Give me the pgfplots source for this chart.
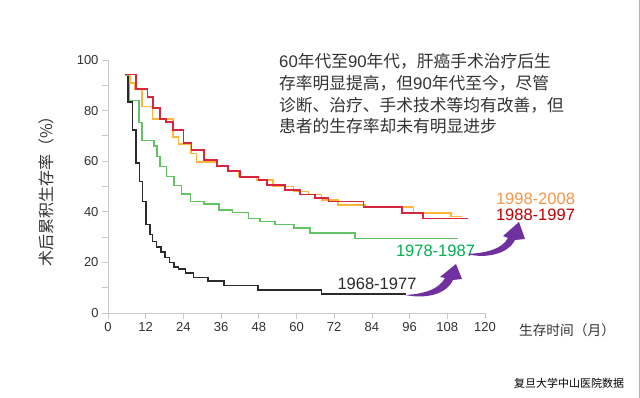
\documentclass[border=0pt]{standalone}
\usepackage{pgfplots}
\pgfplotsset{compat=1.18}
\usepackage{fontspec}
\setmainfont{Liberation Sans}
\newfontfamily\cjk{Noto Sans CJK SC}
\definecolor{axisgray}{HTML}{C8C8C8}
\definecolor{ticktext}{HTML}{333333}
\definecolor{cblack}{HTML}{2B2B2B}
\definecolor{cgreen}{HTML}{62C462}
\definecolor{cred}{HTML}{D7263D}
\definecolor{corange}{HTML}{FDB53A}
\definecolor{lgreen}{HTML}{00B050}
\definecolor{lred}{HTML}{C00000}
\definecolor{lorange}{HTML}{F79646}
\definecolor{purp}{HTML}{7030A0}
\definecolor{txt}{HTML}{333333}
\begin{document}
\begin{tikzpicture}
\path[use as bounding box, fill=white] (0,0) rectangle (640bp,398bp);
\begin{axis}[
  at={(108bp,85bp)}, anchor=south west, scale only axis,
  width=377bp, height=253bp,
  xmin=0, xmax=120, ymin=0, ymax=100,
  axis lines=left,
  axis line style={-, draw=axisgray, line width=0.8bp},
  xtick={0,12,...,120}, ytick={0,20,...,100},
  minor ytick={10,30,...,90},
  tick align=outside,
  major tick length=6bp, minor tick length=6bp,
  every tick/.style={draw=axisgray, line width=0.8bp},
  minor tick style={draw=axisgray, line width=0.8bp},
  major tick style={draw=axisgray, line width=0.8bp},
  ticklabel style={font=\fontsize{13bp}{15bp}\selectfont, text=ticktext},
  /pgf/number format/assume math mode=true,
  clip=false,
]
\addplot[const plot, cblack, line width=1.6bp] table {
5.5 94
6.4 83.5
7.8 72.3
9.0 59.2
10.0 51.9
11.0 44
12.0 35
13.3 31
14.2 28.2
15.5 26.2
16.8 24.2
18.2 22
19.6 20
21.0 18.3
22.5 17.3
24.7 15.7
27.2 14.1
31.9 12.6
37.0 10.8
47.8 9.0
68.0 7.4
95.0 7.4
};
\addplot[const plot, cgreen, line width=1.5bp] table {
5.5 94
6.8 84
9.9 75.2
10.9 68.2
14.6 66
15.6 61.8
16.5 57.9
18.6 54
21.0 50.3
23.4 47.1
26.3 44
30.6 43.1
35.4 40.7
39.6 39.7
44.7 37.4
48.4 36.1
53.2 35
59.2 33.5
64.3 31.7
78.6 29.5
111.3 29.5
};
\addplot[const plot, corange, line width=1.7bp] table {
5.3 94.3
7.0 91
8.6 88.5
10.9 81.6
14.2 76.7
20.8 69.7
22.4 66.8
26.4 63.1
28.2 59.8
34.6 58.1
38.3 56.1
41.8 54
47.3 52.5
52.6 50.0
59.0 48.0
63.8 46.8
68.0 44.7
73.3 42.7
81.8 41.8
97.2 39.4
109.1 38.1
112.6 38.1
};
\addplot[const plot, cred, line width=1.7bp] table {
5.3 94.3
8.9 88.5
12.6 85.5
14.4 80.9
16.6 76.7
18.4 75.6
20.8 72.3
24.0 67.1
26.6 64.4
30.6 60.5
34.6 58.1
38.3 56.1
42.0 53.8
47.9 52.6
50.5 50.5
56.4 48.5
61.1 46.8
65.9 45.5
70.2 44.1
81.3 41.8
93.5 39.4
100.2 37.4
114.7 37.4
};
\end{axis}
\begin{scope}[x=1bp, y=-1bp, shift={(0bp,398bp)}]
  \draw[gray!60, line width=1bp] (639,0) -- (639,398);
  % annotation text
  \node[anchor=north west, inner sep=0pt, align=left, text=txt,
        font=\fontsize{16.75bp}{21.7bp}\selectfont] at (279,53.5)
    {60{\cjk 年代至}90{\cjk 年代，肝癌手术治疗后生}\\
     {\cjk 存率明显提高，但}90{\cjk 年代至今，尽管}\\
     {\cjk 诊断、治疗、手术技术等均有改善，但}\\
     {\cjk 患者的生存率却未有明显进步}};
  % axis labels
  \node[rotate=90, inner sep=0pt, text=txt, font=\fontsize{16bp}{18bp}\selectfont\cjk] at (46,187.5) {术后累积生存率（\%）};
  \node[inner sep=0pt, text=txt, font=\fontsize{13.7bp}{15bp}\selectfont\cjk] at (567,330) {生存时间（月）};
  \node[inner sep=0pt, text=black, font=\fontsize{11bp}{13bp}\selectfont\cjk] at (569,383) {复旦大学中山医院数据};
  % series labels
  \node[inner sep=0pt, text=cblack, font=\fontsize{16.5bp}{18bp}\selectfont] at (377,283.5) {1968-1977};
  \node[inner sep=0pt, text=lgreen, font=\fontsize{16.5bp}{18bp}\selectfont] at (435.5,251) {1978-1987};
  \node[inner sep=0pt, text=lorange, font=\fontsize{16.5bp}{18bp}\selectfont] at (535.5,199) {1998-2008};
  \node[inner sep=0pt, text=lred, font=\fontsize{16.5bp}{18bp}\selectfont] at (535.5,214.5) {1988-1997};
  % purple arrows
  \fill[purp] (405,295) .. controls (425,299) and (446,295) .. (453,280)
     -- (462,279) -- (456,264) -- (440,277) -- (445,278)
     .. controls (439,289) and (425,294) .. (405,295) -- cycle;
  \fill[purp] (467,254) .. controls (486,259) and (508,254) .. (515,240)
     -- (525,239) -- (519,222) -- (503,236) -- (508,238)
     .. controls (502,249) and (487,253) .. (467,254) -- cycle;
\end{scope}
\end{tikzpicture}
\end{document}
